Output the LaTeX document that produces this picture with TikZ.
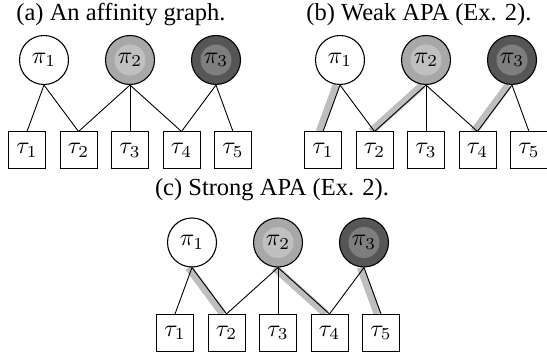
\documentclass[tikz,border=0pt]{standalone}
\usepackage{graphicx}
\usepackage[no-math]{fontspec}
\setmainfont{Liberation Serif}
\pgfdeclarelayer{background}
\pgfsetlayers{background,main}
\definecolor{grayAout}{HTML}{A8A8A8}
\definecolor{grayAin}{HTML}{C0C0C0}
\definecolor{grayBout}{HTML}{565656}
\definecolor{grayBin}{HTML}{7E7E7E}
\definecolor{hlgray}{HTML}{BEBEBE}
\newcommand\lbl[1]{\scalebox{2.4}{$#1$}}
\tikzset{
  proc/.style={circle, draw, line width=1.1pt, minimum size=49pt, inner sep=0pt},
  procmid/.style={proc, fill=grayAout,
    path picture={\fill[grayAin] (path picture bounding box.center) circle (15.5pt);}},
  procdark/.style={proc, fill=grayBout,
    path picture={\fill[grayBin] (path picture bounding box.center) circle (15.5pt);}},
  task/.style={rectangle, draw, fill=white, line width=1pt, minimum size=37pt, inner sep=0pt},
  link/.style={line width=0.9pt},
  hilite/.style={line width=7.5pt, hlgray},
  caption/.style={font=\fontsize{24.5}{28}\selectfont, inner sep=0pt}
}
\newcommand\apanel[3]{%
  \begin{scope}[shift={(#2,#3)}]
    \node[proc]     (#1p1) at (44,298)  {\lbl{\pi_1}};
    \node[procmid]  (#1p2) at (130,298) {\lbl{\pi_2}};
    \node[procdark] (#1p3) at (216,298) {\lbl{\pi_3}};
    \node[task] (#1t1) at (27,207.5)  {\lbl{\tau_1}};
    \node[task] (#1t2) at (78.5,207.5)  {\lbl{\tau_2}};
    \node[task] (#1t3) at (130,207.5) {\lbl{\tau_3}};
    \node[task] (#1t4) at (181.5,207.5) {\lbl{\tau_4}};
    \node[task] (#1t5) at (233,207.5) {\lbl{\tau_5}};
  \end{scope}
  \foreach \p/\t in {p1/t1,p1/t2,p2/t2,p2/t3,p2/t4,p3/t4,p3/t5}
    \draw[link] (#1\p.south) -- (#1\t.north);
}
\begin{document}
\begin{tikzpicture}[x=1pt,y=1pt]
  \useasboundingbox (0,0) rectangle (547,358);
  \apanel{a}{0}{0}
  \apanel{b}{296}{0}
  \apanel{c}{148}{-182.5}
  \begin{pgfonlayer}{background}
    \foreach \p/\t in {bp1/bt1,bp2/bt2,bp3/bt4,cp1/ct2,cp2/ct4,cp3/ct5}
      \draw[hilite] ([xshift=-3.5pt]\p.south) -- ([xshift=-3.5pt]\t.north);
  \end{pgfonlayer}
  \node[caption] (capa) at (121,343) {(a) An affinity graph.};
  \node[caption] (capb) at (419,343) {(b) Weak APA (Ex. 2).};
  \node[caption] (capc) at (272,168) {(c) Strong APA (Ex. 2).};
\end{tikzpicture}
\end{document}
